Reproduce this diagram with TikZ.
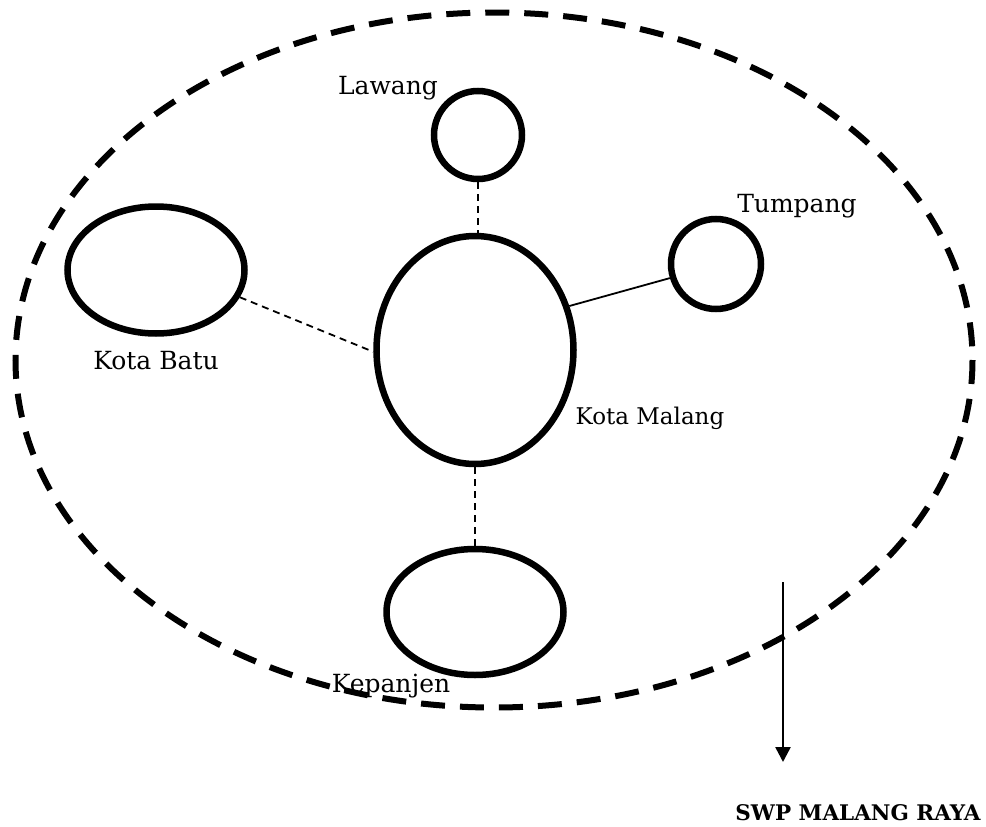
\documentclass[tikz,border=0pt]{standalone}
\usepackage{fontspec}
\setmainfont{DejaVu Serif}
\usetikzlibrary{shapes.geometric,arrows.meta}
\tikzset{
  town/.style={draw, line width=6.5pt, ellipse, inner sep=0pt},
  lbl/.style={font=\fontsize{25}{28}\selectfont, inner sep=0pt, anchor=center},
  link/.style={line width=1.8pt},
  dlink/.style={line width=1.8pt, dash pattern=on 7pt off 5pt},
  region/.style={line width=6pt, dash pattern=on 24pt off 15pt}
}
\begin{document}
\begin{tikzpicture}[x=1pt,y=-1pt]
\useasboundingbox (0,0) rectangle (986,827);
\draw[region] (494,360) ellipse [x radius=478.5, y radius=347.5];
\node[town, circle, minimum size=88pt] (lawang) at (478,135) {};
\node[town, minimum width=197pt, minimum height=228pt] (malang) at (475,350) {};
\node[town, circle, minimum size=90pt] (tumpang) at (716,264) {};
\node[town, minimum width=177pt, minimum height=127pt] (batu) at (156,270) {};
\node[town, minimum width=177pt, minimum height=126pt] (kepanjen) at (475,612) {};
\draw[dlink] (lawang.south) -- (lawang.south |- malang.north);
\draw[dlink] (batu.-18) -- (malang.181);
\draw[link] (malang.25) -- (tumpang.-163);
\draw[dlink] (malang.south) -- (malang.south |- kepanjen.north);
\node[lbl] (tLawang) at (388,88) {Lawang};
\node[lbl] (tTumpang) at (797,206) {Tumpang};
\node[lbl, font=\fontsize{23}{26}\selectfont] (tMalang) at (650,418) {Kota Malang};
\node[lbl] (tBatu) at (156,361) {Kota Batu};
\node[lbl] (tKepanjen) at (391,686) {Kepanjen};
\node[lbl, font=\fontsize{21.5}{25}\selectfont\bfseries] (tSWP) at (858,813) {SWP MALANG RAYA};
\coordinate (arrS) at (783,582);
\coordinate (arrE) at (783,762);
\draw[line width=2.5pt, -{Triangle[width=15pt,length=15pt]}] (arrS) -- (arrE);
\end{tikzpicture}
\end{document}
